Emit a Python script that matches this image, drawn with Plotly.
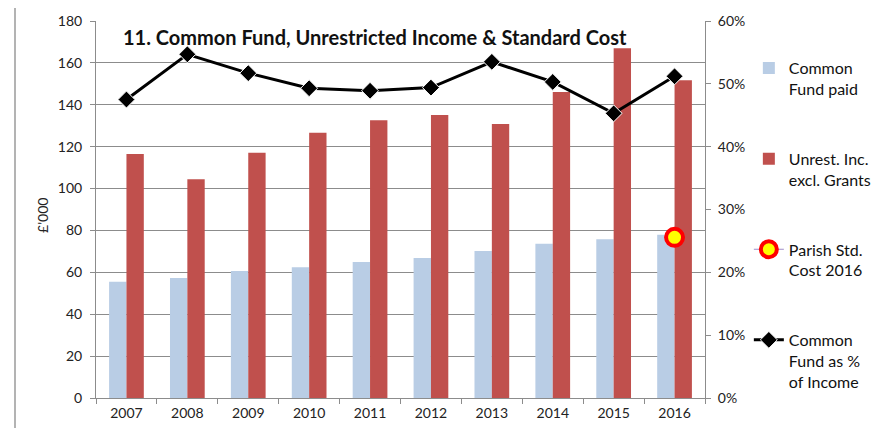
import plotly.graph_objects as go

years = ["2007", "2008", "2009", "2010", "2011", "2012", "2013", "2014", "2015", "2016"]
common_fund_paid = [55.5, 57.3, 60.6, 62.4, 64.9, 66.9, 70.2, 73.7, 75.8, 78.0]
unrest_income = [116.5, 104.4, 117.1, 126.6, 132.6, 135.1, 130.8, 146.1, 167.0, 151.7]
cf_pct_income = [0.475, 0.547, 0.517, 0.493, 0.489, 0.494, 0.535, 0.503, 0.453, 0.512]
parish_year = ["2016"]
parish_std_cost = [76.7]

title_text = "11. Common Fund, Unrestricted Income & Standard Cost"
FONT = "Lato, 'Open Sans', sans-serif"
GRID = "#8c8c8c"

fig = go.Figure()
fig.add_trace(go.Bar(
    x=years, y=common_fund_paid, name="Common<br>Fund paid",
    marker=dict(color="#B9CDE5", line=dict(width=0)), legendgroup="a",
))
fig.add_trace(go.Bar(
    x=years, y=unrest_income, name="Unrest. Inc.<br>excl. Grants",
    marker=dict(color="#C0504D", line=dict(width=0)), legendgroup="b",
))
fig.add_trace(go.Scatter(
    x=parish_year, y=parish_std_cost, name="Parish Std.<br>Cost 2016",
    mode="lines+markers", line=dict(color="#9E8CC8", width=1),
    marker=dict(symbol="circle", size=17, color="#FFFF00", line=dict(color="#FF0000", width=4)),
    legendgroup="c",
))
fig.add_trace(go.Scatter(
    x=years, y=cf_pct_income, name="Common<br>Fund as %<br>of Income",
    mode="lines+markers", yaxis="y2", line=dict(color="#000000", width=3),
    marker=dict(symbol="diamond", size=13, color="#000000", line=dict(color="#ffffff", width=1)),
    legendgroup="d",
))

fig.update_layout(
    width=882, height=420,
    margin=dict(l=88, r=185, t=13, b=30, autoexpand=False),
    paper_bgcolor="white", plot_bgcolor="white",
    font=dict(family=FONT, size=14, color="#222"),
    barmode="group", bargap=0.43, bargroupgap=0,
    showlegend=True,
    legend=dict(
        x=1.072, y=0.92, xanchor="left", yanchor="top",
        font=dict(size=16, color="#111"), valign="top",
        tracegroupgap=46, traceorder="grouped",
        bgcolor="rgba(0,0,0,0)",
    ),
    xaxis=dict(
        type="category", range=[-0.5, len(years) - 0.5],
        showline=True, linecolor=GRID, linewidth=1,
        ticks="outside", tickson="boundaries", ticklen=5, tickcolor=GRID,
        showgrid=False, tickfont=dict(size=14), ticklabelstandoff=2,
    ),
    yaxis=dict(
        range=[0, 180], dtick=20, showline=True, linecolor=GRID, linewidth=1,
        ticks="outside", ticklen=5, tickcolor=GRID,
        showgrid=True, gridcolor=GRID, gridwidth=1, zeroline=False,
        tickfont=dict(size=14), ticklabelstandoff=5,
    ),
    yaxis2=dict(
        range=[0, 0.6], dtick=0.1, tickformat=".0%", overlaying="y", side="right",
        showline=True, linecolor=GRID, linewidth=1,
        ticks="outside", ticklen=5, tickcolor=GRID, showgrid=False, zeroline=False,
        tickfont=dict(size=14), ticklabelstandoff=4,
    ),
    annotations=[
        dict(text="<b>" + title_text + "</b>", xref="paper", yref="paper",
             x=0.458, y=0.958, xanchor="center", yanchor="middle",
             showarrow=False, font=dict(size=20, color="#111")),
        dict(text="£'000", xref="paper", yref="paper", x=-0.089, y=0.485,
             xanchor="center", yanchor="middle",
             textangle=-90, showarrow=False, font=dict(size=14, color="#222")),
    ],
    shapes=[
        dict(type="line", xref="paper", yref="paper", x0=-0.133, x1=-0.133, y0=-0.1, y1=1.0504,
             line=dict(color="#9a9a9a", width=1.5)),
        dict(type="line", xref="paper", yref="paper", x0=-0.133, x1=1.35, y0=1.0504, y1=1.0504,
             line=dict(color="#9a9a9a", width=1.5)),
    ],
)

fig.write_html("out.html")
